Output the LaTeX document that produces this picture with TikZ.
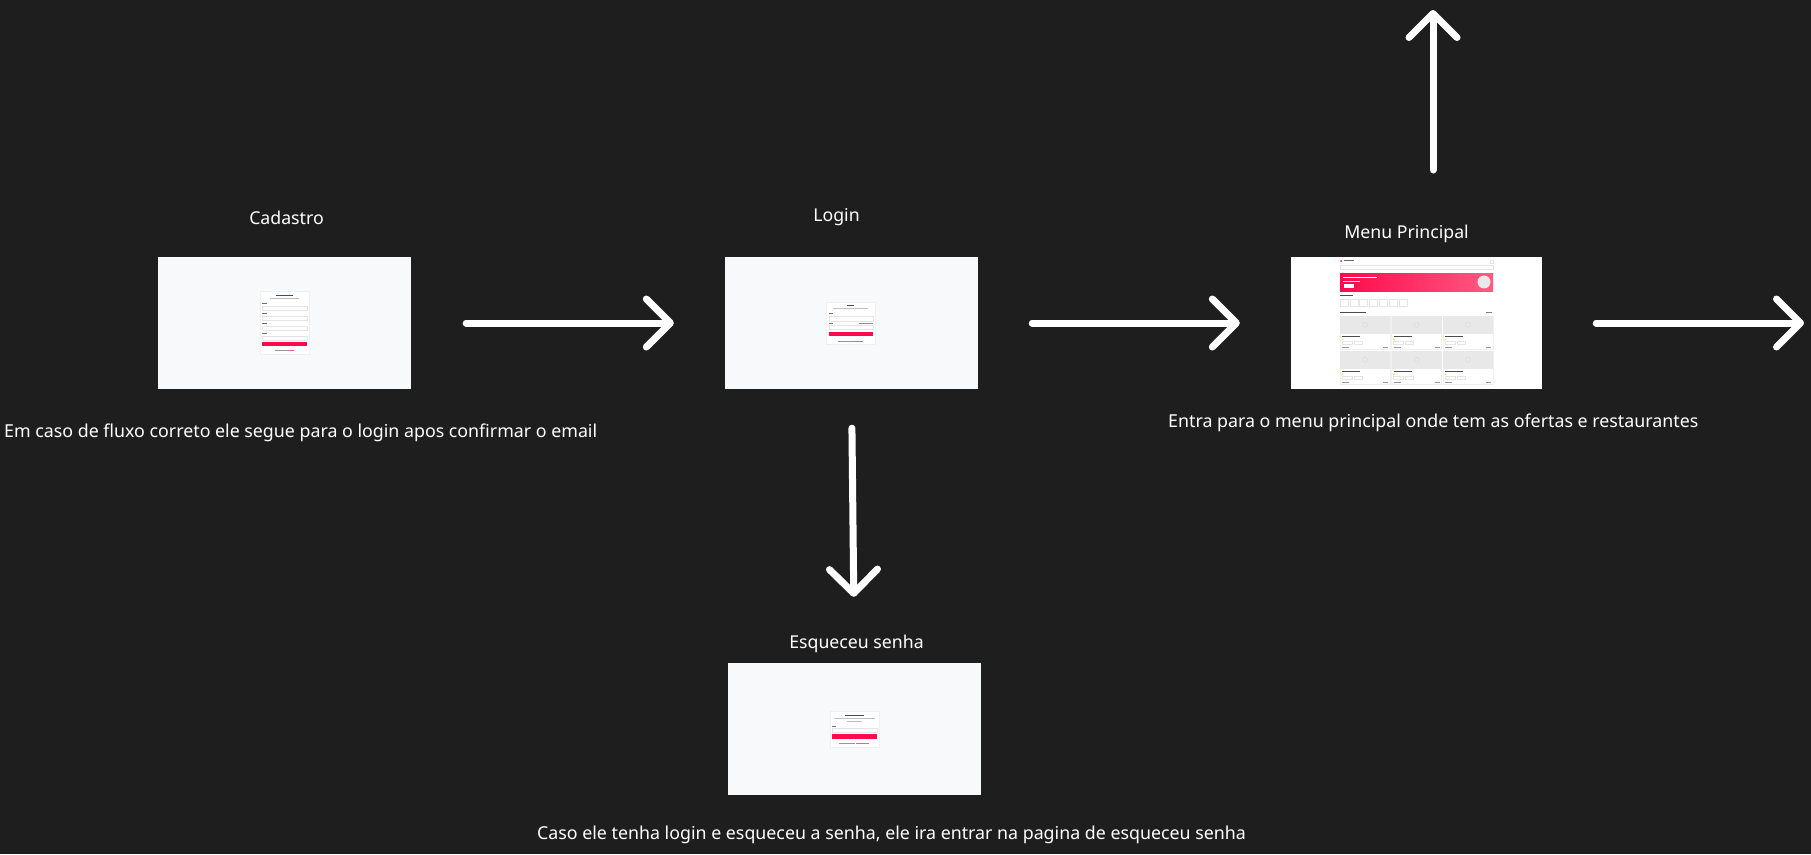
\documentclass[tikz,border=0pt]{standalone}
\usepackage{fontspec}
\setmainfont{Noto Sans}
\usetikzlibrary{positioning,arrows.meta}
\definecolor{boardbg}{RGB}{30,30,30}
\definecolor{screenbg}{RGB}{248,249,251}
\definecolor{appred}{RGB}{255,10,75}
\definecolor{apppink}{RGB}{255,90,130}
\definecolor{mockgray}{RGB}{232,232,232}
\definecolor{mocktext}{RGB}{150,150,150}

\begin{document}
\begin{tikzpicture}[x=1pt,y=-1pt,
    screen/.style={fill=screenbg,minimum width=253pt,minimum height=132pt,inner sep=0pt},
    title/.style={text=white,font=\fontsize{17.7}{21}\selectfont,inner sep=0pt,text depth=0pt},
    note/.style={text=white,font=\fontsize{17.8}{21}\selectfont,inner sep=0pt,anchor=base west},
    flow/.style={white,line width=7pt,line cap=round,
        -{Straight Barb[length=24pt,width=48pt,line cap=round,line join=round]}},
    card/.style={fill=white,draw=black!6,line width=0.4pt},
    field/.style={draw=black!10,line width=0.4pt,fill=white},
    redbtn/.style={fill=appred},
    mockline/.style={draw=mocktext,line width=0.8pt}]

    % background
    \fill[boardbg] (0,0) rectangle (1811,854);
    \useasboundingbox (0,0) rectangle (1811,854);

    % screens
    \node[screen] (cadastro) at (284.5,323) {};
    \node[screen] (login) at (851.5,323) {};
    \node[screen,fill=white,minimum width=251pt] (menu) at (1416.5,323) {};
    \node[screen] (esqueceu) at (854.5,729) {};

    % titles
    \node[title,above=32pt of cadastro,xshift=2pt] (cadastrotitle) {Cadastro};
    \node[title,above=35pt of login,xshift=-15pt] (logintitle) {Login};
    \node[title,above=18pt of menu,xshift=-10pt] (menutitle) {Menu Principal};
    \node[title,above=14pt of esqueceu,xshift=2pt] (esqueceutitle) {Esqueceu senha};

    % notes
    \node[note] (cadastronote) at (4,437) {Em caso de fluxo correto ele segue para o login apos confirmar o email};
    \node[note] (menunote) at (1168,427) {Entra para o menu principal onde tem as ofertas e restaurantes};
    \node[note] (esqueceunote) at (537,839) {Caso ele tenha login e esqueceu a senha, ele ira entrar na pagina de esqueceu senha};

    % mockup: cadastro
    \fill[card] (260,291) rectangle (309,354);
    \draw[mockline,draw=black!70] (276,295) -- (293,295);
    \draw[mockline,draw=black!25,line width=0.5pt] (270,298.5) -- (299,298.5);
    \foreach \fy in {303,313,323,333} {
        \draw[mockline,draw=black!55,line width=0.6pt] (262,\fy) -- (267,\fy);
        \draw[field] (262,\fy+3) rectangle (307,\fy+7);
    }
    \fill[redbtn] (262,342) rectangle (307,346);
    \draw[mockline,line width=0.5pt] (275,350) -- (289,350);
    \draw[mockline,draw=apppink,line width=0.5pt] (289,350) -- (294,350);

    % mockup: login
    \fill[card] (826,302) rectangle (875,344);
    \draw[mockline,draw=black!70] (847,305) -- (854,305);
    \draw[mockline,draw=black!25,line width=0.5pt] (833,308.5) -- (868,308.5);
    \draw[mockline,draw=black!55,line width=0.6pt] (829,313) -- (833,313);
    \draw[field] (829,316) rectangle (873,321);
    \draw[mockline,draw=black!55,line width=0.6pt] (829,323) -- (833,323);
    \draw[mockline,draw=apppink,line width=0.5pt] (859,323) -- (873,323);
    \draw[field] (829,325) rectangle (873,329);
    \fill[redbtn] (829,332) rectangle (873,336);
    \draw[mockline,line width=0.5pt] (838,341) -- (853,341);
    \draw[mockline,draw=apppink,line width=0.5pt] (853,341) -- (863,341);

    % mockup: esqueceu senha
    \fill[card] (830,711) rectangle (879,747);
    \draw[mockline,draw=black!70] (845,715) -- (864,715);
    \draw[mockline,draw=black!25,line width=0.5pt] (834,718.5) -- (875,718.5);
    \draw[mockline,draw=black!25,line width=0.5pt] (847,721) -- (862,721);
    \draw[mockline,draw=black!55,line width=0.6pt] (832,726) -- (836,726);
    \draw[field] (832,728) rectangle (877,732);
    \fill[redbtn] (832,734) rectangle (877,738.5);
    \draw[mockline,line width=0.5pt] (839,743) -- (855,743);
    \draw[mockline,draw=apppink,line width=0.5pt] (856,743) -- (869,743);

    % mockup: menu principal
    \fill[appred] (1341,261) circle (1pt);
    \draw[mockline,draw=black!60,line width=0.6pt] (1344,260.5) -- (1354,260.5);
    \draw[field] (1490,260) rectangle (1493,263);
    \draw[field] (1340,265) rectangle (1493,269);
    \shade[left color=appred,right color=apppink] (1340,273) rectangle (1493,291);
    \draw[mockline,draw=white,line width=0.6pt] (1343,277) -- (1377,277);
    \draw[mockline,draw=white!80!appred,line width=0.5pt] (1343,281) -- (1360,281);
    \fill[white] (1344,284) rectangle (1354,287.5);
    \fill[mockgray] (1484,282) circle (6.5pt);
    \draw[mockline,draw=black!70,line width=0.6pt] (1340,295) -- (1353,295);
    \foreach \cx in {1340,1350,1359,1369,1379,1389,1399} {
        \draw[field] (\cx,299) rectangle (\cx+8.5,306);
    }
    \draw[mockline,draw=black!70,line width=0.6pt] (1340,312) -- (1366,312);
    \draw[mockline,draw=black!50,line width=0.5pt] (1486,312) -- (1492,312);
    \foreach \cx in {1340,1391.5,1443} {
        \foreach \cy in {316,351} {
            \draw[card] (\cx,\cy) rectangle (\cx+50,\cy+33);
            \fill[mockgray] (\cx,\cy) rectangle (\cx+50,\cy+17.5);
            \draw[black!15,line width=0.4pt] (\cx+25,\cy+8.75) circle (2.5pt);
            \draw[mockline,draw=black!70,line width=0.6pt] (\cx+2,\cy+20.5) -- (\cx+20,\cy+20.5);
            \fill[yellow!80!orange] (\cx+2.5,\cy+23.5) circle (0.8pt);
            \draw[field] (\cx+2,\cy+25.5) rectangle (\cx+12,\cy+28);
            \draw[field] (\cx+14,\cy+25.5) rectangle (\cx+22,\cy+28);
            \draw[mockline,line width=0.5pt] (\cx+2,\cy+31) -- (\cx+9,\cy+31);
            \draw[mockline,line width=0.5pt] (\cx+43,\cy+31) -- (\cx+48,\cy+31);
        }
    }

    % free ends
    \coordinate (menuout) at (1804,323);
    \coordinate (upstart) at (1433,170);
    \coordinate (uptip) at (1433,10);

    % flow arrows
    \draw[flow,shorten <=55pt,shorten >=51pt] (cadastro) -- (login);
    \draw[flow,shorten <=54pt,shorten >=51pt] (login) -- (menu);
    \draw[flow,shorten <=54pt] (menu.east) -- (menuout);
    \draw[flow] (upstart) -- (uptip);
    \draw[flow,shorten <=39pt,shorten >=66pt] (login.south) -- (esqueceu.north);

\end{tikzpicture}
\end{document}
